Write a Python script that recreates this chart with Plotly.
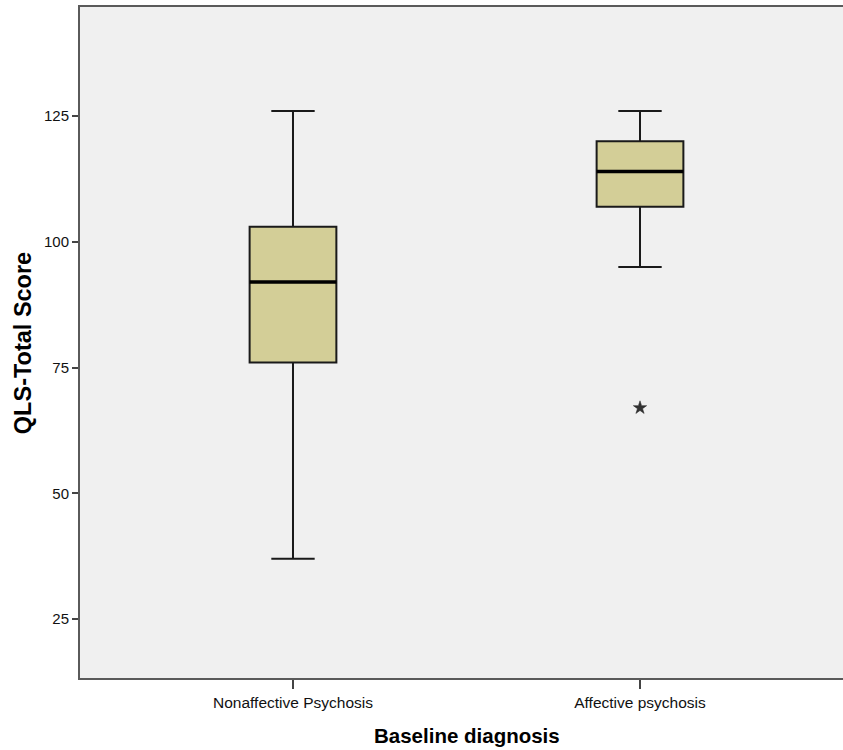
import plotly.graph_objects as go

categories = ["Nonaffective Psychosis", "Affective psychosis"]
lower_whisker = [37, 95]
q1_vals = [76, 107]
medians = [92, 114]
q3_vals = [103, 120]
upper_whisker = [126, 126]
outlier_cat = ["Affective psychosis"]
outlier_vals = [67]
y_ticks = [25, 50, 75, 100, 125]

FONT = "Liberation Sans, Arial, sans-serif"

fig = go.Figure()
for i, cat in enumerate(categories):
    fig.add_trace(go.Box(
        x=[cat],
        q1=[q1_vals[i]], median=[medians[i]], q3=[q3_vals[i]],
        lowerfence=[lower_whisker[i]], upperfence=[upper_whisker[i]],
        width=0.25, whiskerwidth=0.5,
        fillcolor="#D3CE97",
        line=dict(color="#1a1a1a", width=2),
        boxpoints=False, showlegend=False, hoverinfo="skip",
    ))

# thicker median bar drawn as a degenerate box at the median value
for i, cat in enumerate(categories):
    fig.add_trace(go.Box(
        x=[cat],
        q1=[medians[i]], median=[medians[i]], q3=[medians[i]],
        lowerfence=[medians[i]], upperfence=[medians[i]],
        width=0.25, whiskerwidth=0,
        fillcolor="rgba(0,0,0,0)",
        line=dict(color="#000000", width=3.5),
        boxpoints=False, showlegend=False, hoverinfo="skip",
    ))

fig.add_trace(go.Scatter(
    x=outlier_cat, y=outlier_vals, mode="markers",
    marker=dict(symbol="star", size=10, color="#333333",
                line=dict(color="#222222", width=0.5)),
    showlegend=False, hoverinfo="skip",
))

fig.update_layout(
    width=843, height=750,
    margin=dict(l=80, r=0, t=7, b=72),
    paper_bgcolor="white", plot_bgcolor="#F0F0F0",
    font=dict(family=FONT, color="#111111"),
    boxmode="overlay",
    xaxis=dict(
        type="category", categoryorder="array", categoryarray=categories,
        range=[-0.6138, 1.585],
        showline=True, linecolor="#5a5a5a", linewidth=2, mirror=True,
        ticks="outside", ticklen=9, tickcolor="#444444", tickwidth=1.5,
        tickfont=dict(size=15.5, family=FONT, color="#111111"),
        showgrid=False, zeroline=False,
    ),
    yaxis=dict(
        range=[13.27, 146.7],
        tickvals=y_ticks,
        showline=True, linecolor="#5a5a5a", linewidth=2,
        ticks="outside", ticklen=6, tickcolor="#444444", tickwidth=1.5,
        tickfont=dict(size=15, family=FONT, color="#111111"),
        showgrid=False, zeroline=False,
    ),
    annotations=[
        dict(text="<b>Baseline diagnosis</b>", xref="paper", yref="paper",
             x=0.507, y=-0.085, xanchor="center", yanchor="middle",
             showarrow=False, font=dict(size=20.5, family=FONT, color="#000000")),
        dict(text="<b>QLS-Total Score</b>", xref="paper", yref="paper",
             x=-0.0747, y=0.499, xanchor="center", yanchor="middle",
             textangle=-90, showarrow=False,
             font=dict(size=23.5, family=FONT, color="#000000")),
    ],
)

fig.write_html(
    "out.html",
    config={"displayModeBar": False},
    post_script="document.body.style.margin='0';document.body.style.overflow='hidden';",
)
